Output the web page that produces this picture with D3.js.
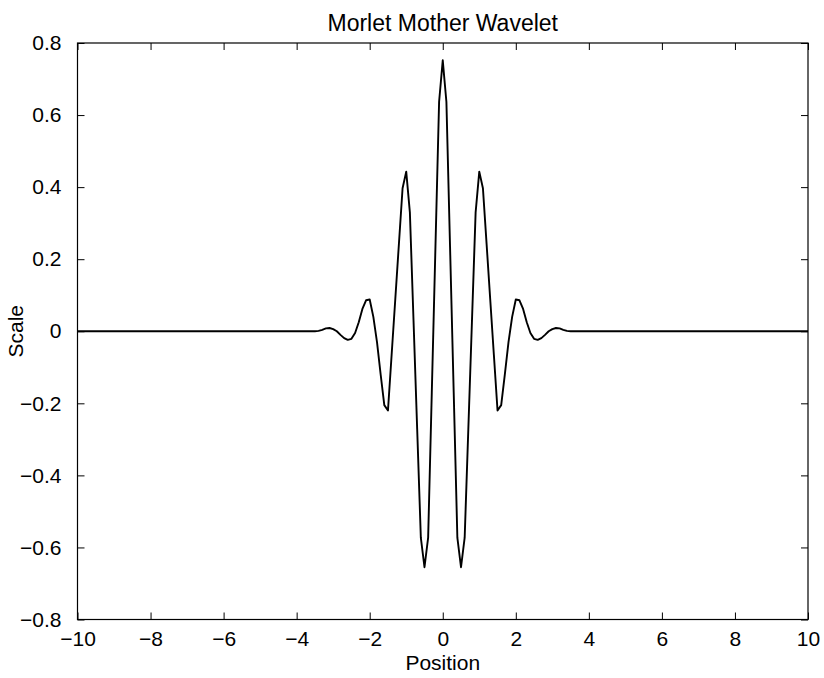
<!DOCTYPE html>
<html>
<head>
<meta charset="utf-8">
<script src="https://cdn.jsdelivr.net/npm/d3@7"></script>
<style>
  body { margin: 0; background: #fff; }
  text { font-family: "Liberation Sans", Arial, Helvetica, sans-serif; fill: #000; }
</style>
</head>
<body>
<div id="chart"></div>
<script>
// values (position, scale)
var positions = [-10, -3.6, -3.5, -3.4, -3.3, -3.2, -3.1, -3.0, -2.9, -2.8, -2.7, -2.6, -2.5, -2.4, -2.3, -2.2, -2.1, -2.0,
    -1.9, -1.8, -1.7, -1.6, -1.5, -1.4, -1.3, -1.2, -1.1, -1.0, -0.9, -0.8, -0.7, -0.6, -0.5, -0.4, -0.3, -0.2, -0.1,
    0,
    0.1, 0.2, 0.3, 0.4, 0.5, 0.6, 0.7, 0.8, 0.9, 1.0, 1.1, 1.2, 1.3, 1.4, 1.5, 1.6, 1.7, 1.8, 1.9,
    2.0, 2.1, 2.2, 2.3, 2.4, 2.5, 2.6, 2.7, 2.8, 2.9, 3.0, 3.1, 3.2, 3.3, 3.4, 3.5, 3.6, 10];
var scaleValues = [0, 0, 0.000, 0.001, 0.004, 0.008, 0.009, 0.006, 0.000, -0.010, -0.019, -0.024, -0.021, -0.005, 0.025, 0.062, 0.086, 0.088,
    0.040, -0.030, -0.120, -0.205, -0.220, -0.066, 0.088, 0.243, 0.397, 0.443, 0.330, 0.029, -0.272, -0.573, -0.655, -0.573, -0.170, 0.234, 0.637,
    0.752,
    0.637, 0.234, -0.170, -0.573, -0.655, -0.573, -0.272, 0.029, 0.330, 0.443, 0.397, 0.243, 0.088, -0.066, -0.220, -0.205, -0.120, -0.030, 0.040,
    0.088, 0.086, 0.062, 0.025, -0.005, -0.021, -0.024, -0.019, -0.010, 0.000, 0.006, 0.009, 0.008, 0.004, 0.001, 0.000, 0, 0];

var xTicks = [-10, -8, -6, -4, -2, 0, 2, 4, 6, 8, 10];
var yTicks = [-0.8, -0.6, -0.4, -0.2, 0, 0.2, 0.4, 0.6, 0.8];

function drawChart() {
    var width = 824,
        height = 678;
    // plot frame in pixels
    var fLeft = 77.5, fRight = 808, fTop = 43, fBottom = 619.5;
    var fontSize = "21px";

    var svg = d3.select("#chart")
        .append("svg")
        .attr("width", width)
        .attr("height", height);

    var x = d3.scaleLinear().domain([-10, 10]).range([fLeft, fRight]);
    var y = d3.scaleLinear().domain([-0.8, 0.8]).range([fBottom, fTop]);

    var points = positions.map(function (p, i) {
        return [p, scaleValues[i]];
    });

    // the wavelet
    var line = d3.line()
        .x(function (d) { return x(d[0]); })
        .y(function (d) { return y(d[1]); });

    svg.append("path")
        .datum(points)
        .attr("d", line)
        .attr("fill", "none")
        .attr("stroke", "#000")
        .attr("stroke-width", 1.9)
        .attr("stroke-linejoin", "round");

    // axes, ticks pointing inwards
    var fmtY = d3.format(".1~f");
    var tick = 7;

    svg.append("g")
        .attr("transform", "translate(0," + fBottom + ")")
        .call(d3.axisBottom(x).tickValues(xTicks).tickSize(-tick).tickPadding(12).tickSizeOuter(0));
    svg.append("g")
        .attr("transform", "translate(0," + fTop + ")")
        .call(d3.axisTop(x).tickValues(xTicks).tickSize(-tick).tickFormat("").tickSizeOuter(0));
    svg.append("g")
        .attr("transform", "translate(" + fLeft + ",0)")
        .call(d3.axisLeft(y).tickValues(yTicks).tickSize(-tick).tickPadding(16).tickFormat(fmtY).tickSizeOuter(0));
    svg.append("g")
        .attr("transform", "translate(" + fRight + ",0)")
        .call(d3.axisRight(y).tickValues(yTicks).tickSize(-tick).tickFormat("").tickSizeOuter(0));

    svg.selectAll(".domain").remove();
    svg.selectAll(".tick line").attr("stroke", "#000").attr("stroke-width", 1);
    svg.selectAll(".tick text")
        .style("font-size", fontSize)
        .style("font-family", "'Liberation Sans', Arial, sans-serif");

    // frame
    svg.append("rect")
        .attr("x", fLeft)
        .attr("y", fTop)
        .attr("width", fRight - fLeft)
        .attr("height", fBottom - fTop)
        .attr("fill", "none")
        .attr("stroke", "#000")
        .attr("stroke-width", 1.2);

    // titles
    svg.append("text")
        .attr("x", (fLeft + fRight) / 2)
        .attr("y", 31)
        .attr("text-anchor", "middle")
        .style("font-size", "23px")
        .text("Morlet Mother Wavelet");

    svg.append("text")
        .attr("x", (fLeft + fRight) / 2)
        .attr("y", 670)
        .attr("text-anchor", "middle")
        .style("font-size", fontSize)
        .text("Position");

    svg.append("text")
        .attr("transform", "translate(23," + y(0) + ") rotate(-90)")
        .attr("text-anchor", "middle")
        .style("font-size", fontSize)
        .text("Scale");
}

drawChart();
</script>
</body>
</html>
